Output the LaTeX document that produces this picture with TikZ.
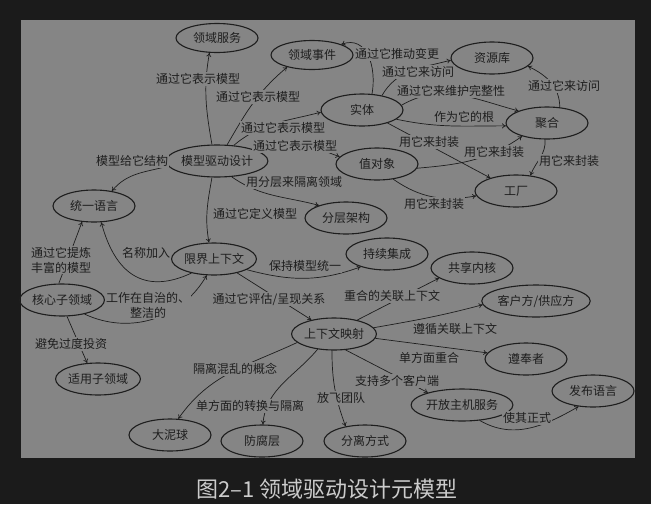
\documentclass[tikz,border=0pt]{standalone}
\usepackage{fontspec}
\setmainfont{Noto Sans CJK SC}
\usetikzlibrary{arrows.meta,shapes.geometric}
\definecolor{dddark}{HTML}{1B1B1B}
\definecolor{ddpanel}{HTML}{858585}
\definecolor{ddink}{HTML}{1E1E1E}
\definecolor{ddcap}{HTML}{CCCCCC}
\tikzset{
  el/.style={ellipse, draw=ddink, line width=1.1pt, minimum width=82pt, minimum height=32pt, inner sep=0pt, font=\fontsize{12}{14}\selectfont, text=ddink},
  lbl/.style={font=\fontsize{12}{15}\selectfont, text=ddink, fill=ddpanel, inner sep=1pt, align=center},
  arr/.style={-{To[length=4pt,width=5pt]}, line width=0.7pt, color=ddink},
}

\begin{document}
\begin{tikzpicture}[x=1pt,y=-1pt]
  \useasboundingbox (0,0) rectangle (651,504);
  \fill[dddark] (0,0) rectangle (651,504);
  \fill[ddpanel] (21,20) rectangle (635,458);
  % concepts
  \node[el, minimum height=29pt] (dsvc) at (217,38) {领域服务};
  \node[el, minimum height=29pt] (devt) at (312,55) {领域事件};
  \node[el] (repo) at (492,58) {资源库};
  \node[el] (ent) at (362,110) {实体};
  \node[el] (agg) at (547,123) {聚合};
  \node[el] (mdd) at (217,161) {模型驱动设计};
  \node[el] (vo) at (377,164) {值对象};
  \node[el] (fac) at (516,191) {工厂};
  \node[el] (ul) at (94,206) {统一语言};
  \node[el] (lay) at (346,218) {分层架构};
  \node[el] (bc) at (214,259) {限界上下文};
  \node[el] (ci) at (387,254) {持续集成};
  \node[el] (sk) at (472,268) {共享内核};
  \node[el] (core) at (62,300) {核心子领域};
  \node[el, minimum width=85pt] (cs) at (536,301) {客户方/供应方};
  \node[el] (cm) at (334,334) {上下文映射};
  \node[el] (conf) at (526,359) {遵奉者};
  \node[el] (gen) at (98,379) {适用子领域};
  \node[el] (pl) at (593,391) {发布语言};
  \node[el] (ohs) at (462,405) {开放主机服务};
  \node[el] (bbom) at (170,435) {大泥球};
  \node[el] (acl) at (262,441) {防腐层};
  \node[el] (sep) at (365,441) {分离方式};
  % relations
  \draw[arr] (mdd.107) to[out=100,in=-100] (dsvc.243);
  \draw[arr] (mdd.58) to[out=60,in=220] (devt.206);
  \draw[arr] (mdd.43) to[out=40,in=195] (ent.183);
  \draw[arr] (mdd.19) to[out=30,in=160] (vo.169);
  \draw[arr] (mdd.-47) to[out=-35,in=165] (lay.155);
  \draw[arr] (mdd.186) to[out=195,in=50] (ul.40);
  \draw[arr] (mdd.253) to[out=-100,in=100] (bc.107);
  \draw[arr] (ent.58) to[out=80,in=20,looseness=1.2] (devt.20);
  \draw[arr] (ent.36) to[out=60,in=195] (repo.183);
  \draw[arr] (ent.7) to[out=30,in=165] (agg.157);
  \draw[arr] (ent.-15) to[out=-12,in=180] (agg.184);
  \draw[arr] (ent.-27) -- (fac.153);
  \draw[arr] (vo.-6) to[out=5,in=215] (agg.208);
  \draw[arr] (vo.-43) to[out=-35,in=190] (fac.187);
  \draw[arr] (agg.51) to[out=90,in=-25] (repo.-13);
  \draw[arr] (agg.263) to[out=-85,in=70] (fac.47);
  \draw[arr] (bc.212) to[out=205,in=-75,looseness=1.3] (ul.-66);
  \draw[arr] (core.101) -- (ul.233);
  \draw[arr] (core.-32) to[out=-25,in=-120] (bc.246);
  \draw[arr] (core.-73) -- (gen.124);
  \draw[arr] (bc.-18) to[out=-15,in=200] (ci.206);
  \draw[arr] (bc.-31) -- (cm.148);
  \draw[arr] (cm.31) -- (sk.197);
  \draw[arr] (cm.9) to[out=10,in=195] (cs.184);
  \draw[arr] (cm.-6) -- (conf.171);
  \draw[arr] (cm.-54) -- (ohs.160);
  \draw[arr] (ohs.-41) to[out=-30,in=210] (pl.227);
  \draw[arr] (cm.-97) to[out=-90,in=110] (sep.143);
  \draw[arr] (cm.223) to[out=-130,in=85] (acl.87);
  \draw[arr] (cm.193) to[out=205,in=55] (bbom.63);
  % relation texts
  \node[lbl] (t-dsvc) at (198,79) {通过它表示模型};
  \node[lbl] (t-devt) at (258,97) {通过它表示模型};
  \node[lbl] (t-ent) at (283,128) {通过它表示模型};
  \node[lbl] (t-vo) at (295,146) {通过它表示模型};
  \node[lbl] (t-lay) at (294,182) {用分层来隔离领域};
  \node[lbl] (t-ul) at (132,161) {模型给它结构};
  \node[lbl] (t-bc) at (255,214) {通过它定义模型};
  \node[lbl] (t-chg) at (397,54) {通过它推动变更};
  \node[lbl] (t-acc1) at (418,72) {通过它来访问};
  \node[lbl] (t-int) at (451,91) {通过它来维护完整性};
  \node[lbl] (t-root) at (464,117) {作为它的根};
  \node[lbl] (t-enc1) at (429,142) {用它来封装};
  \node[lbl] (t-enc2) at (494,152) {用它来封装};
  \node[lbl] (t-enc3) at (569,161) {用它来封装};
  \node[lbl] (t-enc4) at (434,204) {用它来封装};
  \node[lbl] (t-acc2) at (564,86) {通过它来访问};
  \node[lbl] (t-name) at (146,253) {名称加入};
  \node[lbl] (t-dist) at (61,260) {通过它提炼\\丰富的模型};
  \node[lbl] (t-keep) at (305,266) {保持模型统一};
  \node[lbl] (t-auto) at (148,305) {工作在自治的、\\整洁的};
  \node[lbl] (t-rel) at (269,299) {通过它评估/呈现关系};
  \node[lbl] (t-ovl) at (392,296) {重合的关联上下文};
  \node[lbl] (t-fol) at (455,329) {遵循关联上下文};
  \node[lbl] (t-one) at (429,358) {单方面重合};
  \node[lbl] (t-multi) at (397,381) {支持多个客户端};
  \node[lbl] (t-free) at (341,398) {放飞团队};
  \node[lbl] (t-form) at (527,418) {使其正式};
  \node[lbl] (t-iso) at (235,369) {隔离混乱的概念};
  \node[lbl] (t-trans) at (250,406) {单方面的转换与隔离};
  \node[lbl] (t-inv) at (71,344) {避免过度投资};
  % caption
  \node[font=\fontsize{22}{24}\selectfont, text=ddcap] (cap) at (327,489) {图2–1 领域驱动设计元模型};
\end{tikzpicture}
\end{document}
